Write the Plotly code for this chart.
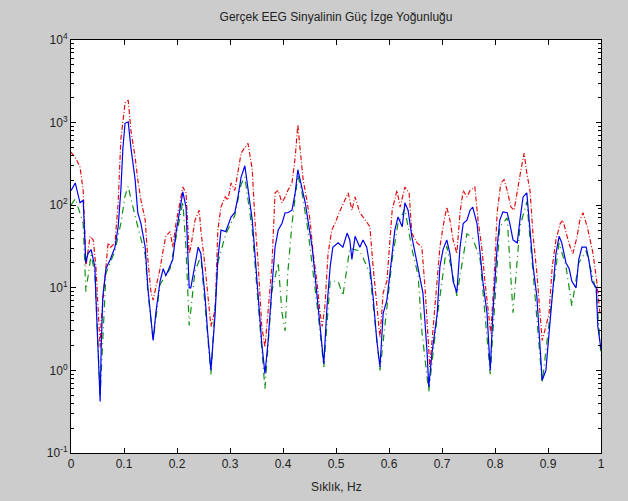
import plotly.graph_objects as go

# ---------------- data ----------------
freq_blue = [0.000, 0.008, 0.017, 0.023, 0.028, 0.032, 0.038, 0.045, 0.047, 0.055,
             0.057, 0.060, 0.066, 0.074, 0.083, 0.089, 0.094, 0.098, 0.102, 0.108,
             0.113, 0.121, 0.126, 0.132, 0.140, 0.145, 0.155, 0.160, 0.168, 0.174,
             0.179, 0.187, 0.192, 0.198, 0.206, 0.211, 0.217, 0.223, 0.226, 0.234,
             0.240, 0.245, 0.253, 0.258, 0.264, 0.272, 0.277, 0.283, 0.292, 0.302,
             0.309, 0.315, 0.321, 0.328, 0.334, 0.342, 0.347, 0.353, 0.360, 0.366,
             0.372, 0.379, 0.385, 0.391, 0.398, 0.404, 0.409, 0.417, 0.423, 0.428,
             0.436, 0.442, 0.447, 0.455, 0.460, 0.466, 0.474, 0.477, 0.483, 0.489,
             0.494, 0.504, 0.513, 0.521, 0.526, 0.530, 0.536, 0.545, 0.551, 0.558,
             0.564, 0.570, 0.577, 0.583, 0.589, 0.596, 0.606, 0.611, 0.617, 0.625,
             0.630, 0.636, 0.643, 0.649, 0.655, 0.664, 0.672, 0.675, 0.681, 0.691,
             0.696, 0.702, 0.709, 0.715, 0.721, 0.728, 0.734, 0.740, 0.747, 0.753,
             0.758, 0.766, 0.772, 0.777, 0.785, 0.791, 0.796, 0.804, 0.809, 0.815,
             0.823, 0.828, 0.834, 0.842, 0.847, 0.853, 0.860, 0.866, 0.872, 0.879,
             0.885, 0.889, 0.896, 0.902, 0.908, 0.915, 0.921, 0.926, 0.934, 0.940,
             0.945, 0.953, 0.958, 0.964, 0.972, 0.977, 0.983, 0.991, 0.994, 1.000]
psd_blue = [150, 186, 107, 115, 20, 26, 29, 18, 7.8, 0.42,
            1.9, 7.8, 17, 22, 31, 55, 150, 500, 980, 1020,
            500, 204, 81, 60, 31, 10, 2.3, 4.9, 12, 17,
            14, 18, 22, 46, 95, 145, 95, 10, 10, 18,
            31, 26, 7.8, 2.8, 1.0, 4.9, 22, 50, 48, 72,
            81, 126, 219, 300, 150, 66, 26, 7.8, 2.1, 0.91,
            2.3, 10, 31, 50, 60, 81, 81, 87, 141, 269,
            166, 107, 66, 31, 15, 5.9, 1.9, 1.2, 5.9, 18,
            31, 35, 31, 46, 38, 22, 42, 31, 38, 31,
            18, 7.8, 2.3, 1.1, 4.9, 7.1, 26, 50, 72, 55,
            107, 87, 42, 26, 18, 8.7, 1.6, 0.63, 1.6, 4.9,
            18, 29, 38, 26, 12, 8.7, 31, 60, 66, 87,
            95, 60, 26, 12, 4.9, 1.0, 4.9, 31, 66, 83,
            81, 60, 38, 35, 66, 126, 141, 50, 18, 7.8,
            1.9, 0.76, 1.0, 2.8, 8.7, 26, 42, 35, 20, 17,
            12, 10, 22, 31, 31, 22, 12, 10, 3.4, 1.8]

freq_red = [0.000, 0.009, 0.017, 0.019, 0.023, 0.026, 0.028, 0.036, 0.042, 0.047,
            0.051, 0.055, 0.057, 0.064, 0.070, 0.075, 0.083, 0.089, 0.094, 0.102,
            0.108, 0.113, 0.121, 0.126, 0.132, 0.140, 0.145, 0.151, 0.155, 0.160,
            0.168, 0.174, 0.179, 0.187, 0.192, 0.198, 0.206, 0.211, 0.217, 0.223,
            0.226, 0.234, 0.242, 0.245, 0.253, 0.258, 0.264, 0.272, 0.277, 0.283,
            0.291, 0.296, 0.302, 0.309, 0.315, 0.321, 0.328, 0.334, 0.342, 0.347,
            0.353, 0.360, 0.366, 0.372, 0.379, 0.385, 0.391, 0.398, 0.404, 0.409,
            0.417, 0.423, 0.428, 0.432, 0.438, 0.445, 0.451, 0.457, 0.464, 0.470,
            0.474, 0.479, 0.485, 0.492, 0.498, 0.508, 0.517, 0.523, 0.530, 0.536,
            0.545, 0.555, 0.564, 0.570, 0.577, 0.583, 0.589, 0.596, 0.606, 0.615,
            0.621, 0.630, 0.638, 0.643, 0.653, 0.662, 0.668, 0.674, 0.677, 0.683,
            0.691, 0.696, 0.702, 0.709, 0.715, 0.721, 0.728, 0.734, 0.740, 0.747,
            0.753, 0.762, 0.768, 0.775, 0.781, 0.787, 0.792, 0.798, 0.804, 0.811,
            0.817, 0.823, 0.830, 0.836, 0.842, 0.849, 0.855, 0.860, 0.866, 0.872,
            0.879, 0.885, 0.889, 0.896, 0.902, 0.908, 0.915, 0.923, 0.928, 0.936,
            0.942, 0.947, 0.955, 0.960, 0.966, 0.974, 0.979, 0.985, 0.992, 0.998]
psd_red = [440, 370, 290, 220, 150, 50, 18, 42, 38, 18,
           4.9, 1.9, 4.1, 13, 35, 31, 35, 107, 620, 1740,
           1860, 810, 380, 204, 115, 66, 22, 8.7, 7.1, 10,
           17, 29, 42, 48, 31, 60, 115, 166, 141, 26,
           31, 66, 87, 50, 18, 8.7, 3.4, 5.4, 50, 95,
           126, 115, 186, 151, 245, 427, 500, 560, 269, 66,
           20, 3.4, 1.9, 4.9, 18, 141, 151, 107, 126, 151,
           186, 380, 950, 500, 204, 115, 66, 26, 12, 4.9,
           3.4, 5.9, 26, 50, 60, 87, 115, 141, 87, 126,
           81, 66, 55, 18, 5.9, 2.5, 8.7, 12, 87, 151,
           95, 166, 141, 46, 35, 31, 10, 2.8, 1.1, 3.1,
           12, 31, 55, 95, 66, 38, 26, 81, 151, 126,
           151, 166, 66, 31, 12, 4.9, 2.8, 12, 81, 186,
           204, 151, 95, 87, 151, 269, 427, 245, 151, 42,
           15, 4.9, 2.3, 3.4, 4.9, 18, 38, 60, 66, 42,
           31, 26, 42, 66, 81, 55, 38, 26, 12, 4.9]

freq_green = [0.000, 0.008, 0.017, 0.023, 0.028, 0.038, 0.045, 0.055, 0.066, 0.083,
              0.094, 0.102, 0.108, 0.113, 0.126, 0.140, 0.145, 0.155, 0.168, 0.187,
              0.198, 0.211, 0.217, 0.223, 0.234, 0.245, 0.264, 0.277, 0.292, 0.309,
              0.321, 0.328, 0.342, 0.353, 0.366, 0.379, 0.391, 0.398, 0.404, 0.409,
              0.417, 0.428, 0.436, 0.447, 0.455, 0.466, 0.477, 0.489, 0.504, 0.513,
              0.526, 0.545, 0.564, 0.583, 0.606, 0.617, 0.630, 0.643, 0.655, 0.662,
              0.675, 0.691, 0.709, 0.728, 0.747, 0.758, 0.772, 0.791, 0.809, 0.823,
              0.834, 0.847, 0.860, 0.872, 0.889, 0.908, 0.921, 0.934, 0.945, 0.958,
              0.972, 0.991, 1.000]
psd_green = [100, 120, 80, 60, 9, 25, 15, 0.5, 15, 28,
             60, 130, 170, 120, 55, 25, 9, 2.3, 11, 17,
             40, 110, 30, 3.5, 16, 24, 0.9, 20, 45, 75,
             180, 220, 50, 6, 0.6, 9, 20, 5, 3, 15,
             60, 230, 140, 50, 20, 5, 1.1, 12, 12, 8,
             30, 28, 15, 1.0, 22, 60, 90, 30, 14, 3,
             0.55, 4.5, 32, 8, 45, 40, 22, 0.9, 55, 70,
             5, 55, 110, 15, 0.7, 8, 35, 18, 6, 20,
             28, 9, 1.5]

x_tick_vals = [0, 0.1, 0.2, 0.3, 0.4, 0.5, 0.6, 0.7, 0.8, 0.9, 1]
x_tick_text = ["0", "0.1", "0.2", "0.3", "0.4", "0.5", "0.6", "0.7", "0.8", "0.9", "1"]
y_tick_vals = [0.1, 1, 10, 100, 1000, 10000]
y_tick_text = ["10<sup>-1</sup>", "10<sup>0</sup>", "10<sup>1</sup>",
               "10<sup>2</sup>", "10<sup>3</sup>", "10<sup>4</sup>"]

title_text = "Gerçek EEG Sinyalinin Güç İzge Yoğunluğu"
xlabel_text = "Sıklık, Hz"

# ---------------- figure ----------------
minor_y = [k * 10 ** e for e in range(-1, 4) for k in range(2, 10)]

fig = go.Figure()
fig.add_trace(go.Scatter(x=freq_red, y=psd_red, mode="lines",
                         line=dict(color="#e01010", width=1.2, dash="5px,2px,1px,2px"),
                         showlegend=False))
fig.add_trace(go.Scatter(x=freq_green, y=psd_green, mode="lines",
                         line=dict(color="#109010", width=1.2, dash="7px,4px,1px,4px"),
                         showlegend=False))
fig.add_trace(go.Scatter(x=freq_blue, y=psd_blue, mode="lines",
                         line=dict(color="#0000f0", width=1.2),
                         showlegend=False))

font_family = "Liberation Sans, Arial, sans-serif"
fig.update_layout(
    width=628, height=501,
    paper_bgcolor="#cccccc", plot_bgcolor="#ffffff",
    margin=dict(l=71, r=27, t=40, b=48),
    font=dict(family=font_family, size=12, color="#222222"),
    title=dict(text=title_text, x=(71 + 601) / 2 / 628, xanchor="center",
               y=1 - 17 / 501, yanchor="middle", yref="container",
               font=dict(size=12, color="#222222")),
    showlegend=False,
)
fig.update_xaxes(
    range=[0, 1], tickmode="array", tickvals=x_tick_vals, ticktext=x_tick_text,
    ticks="inside", ticklen=5, tickcolor="#000000", tickwidth=1,
    showline=True, linecolor="#000000", linewidth=1, mirror="allticks",
    showgrid=False, zeroline=False, tickfont=dict(size=12),
)
fig.update_yaxes(
    type="log", range=[-1, 4], tickmode="array", tickvals=y_tick_vals, ticktext=y_tick_text,
    ticks="inside", ticklen=5, tickcolor="#000000", tickwidth=1,
    showline=True, linecolor="#000000", linewidth=1, mirror="allticks",
    showgrid=False, zeroline=False, tickfont=dict(size=12),
    minor=dict(tickmode="array", tickvals=minor_y, ticks="inside", ticklen=3,
               tickcolor="#000000", showgrid=False),
)
fig.add_annotation(text=xlabel_text, x=0.5, xref="paper", y=-(487 - 453) / 413, yref="paper",
                   xanchor="center", yanchor="middle", showarrow=False,
                   font=dict(size=12, color="#222222"))

fig.write_html("out.html", config={"displayModeBar": False},
               post_script="document.body.style.margin='0';document.body.style.background='#cccccc';")
